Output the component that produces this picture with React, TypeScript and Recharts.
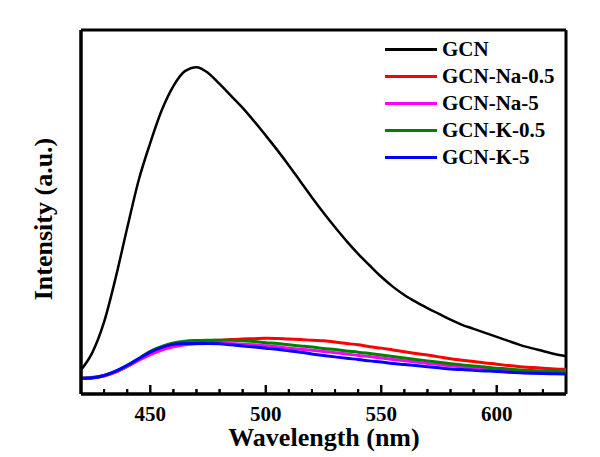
import React from 'react';
import { LineChart, Line, XAxis, YAxis, ReferenceLine } from 'recharts';

// wavelength grid (nm), 5 nm step
const wavelengths = [
  420, 425, 430, 435, 440, 445, 450, 455, 460, 465, 470, 475, 480, 485, 490, 495, 500,
  505, 510, 515, 520, 525, 530, 535, 540, 545, 550, 555, 560, 565, 570, 575, 580, 585,
  590, 595, 600, 605, 610, 615, 620, 625, 630,
];

const gcn = [
  6.6, 11.5, 19.8, 31.9, 45.6, 58.8, 69.0, 78.0, 84.6, 88.7, 89.8, 88.2, 85.2, 81.9, 78.6, 74.9, 71.0,
  67.0, 62.8, 58.4, 54.0, 49.8, 45.8, 42.0, 38.5, 35.3, 32.2, 29.5, 27.2, 25.3, 23.6, 22.0, 20.4, 19.0,
  17.9, 16.8, 15.7, 14.6, 13.5, 12.6, 11.8, 11.0, 10.4,
];
const gcnNa05 = [
  4.25, 4.4, 4.95, 6.0, 7.55, 9.3, 11.0, 12.5, 13.6, 14.0, 14.3, 14.6, 14.8, 15.0, 15.1, 15.2, 15.3,
  15.25, 15.1, 15.0, 14.75, 14.6, 14.3, 13.9, 13.5, 13.0, 12.6, 12.1, 11.6, 11.15, 10.7, 10.2, 9.7, 9.3,
  8.9, 8.5, 8.2, 7.8, 7.5, 7.3, 7.1, 6.9, 6.8,
];
const gcnNa5 = [
  4.4, 4.6, 5.1, 6.1, 7.55, 9.3, 10.85, 12.1, 12.95, 13.5, 13.8, 13.9, 13.9, 13.85, 13.7, 13.5, 13.25,
  13.0, 12.6, 12.3, 12.0, 11.7, 11.35, 11.0, 10.6, 10.3, 9.9, 9.5, 9.15, 8.8, 8.4, 8.1, 7.75, 7.45,
  7.15, 6.9, 6.6, 6.4, 6.2, 6.05, 5.95, 5.9, 5.85,
];
const gcnK05 = [
  4.3, 4.45, 5.1, 6.2, 7.8, 9.7, 11.7, 13.05, 14.0, 14.5, 14.7, 14.8, 14.8, 14.8, 14.6, 14.4, 14.1,
  13.85, 13.5, 13.2, 12.9, 12.5, 12.2, 11.8, 11.5, 11.1, 10.7, 10.3, 9.9, 9.5, 9.1, 8.7, 8.3, 8.0,
  7.7, 7.4, 7.1, 6.9, 6.6, 6.45, 6.3, 6.2, 6.1,
];
const gcnK5 = [
  4.3, 4.45, 5.1, 6.3, 7.9, 9.75, 11.5, 12.8, 13.65, 13.9, 13.9, 13.9, 13.8, 13.5, 13.2, 12.9, 12.6,
  12.3, 11.9, 11.5, 11.0, 10.6, 10.2, 9.8, 9.5, 9.1, 8.8, 8.4, 8.1, 7.8, 7.5, 7.2, 6.9, 6.7,
  6.5, 6.35, 6.2, 6.0, 5.85, 5.7, 5.6, 5.55, 5.5,
];

const xTicks = [430, 440, 450, 460, 470, 480, 490, 500, 510, 520, 530, 540, 550, 560, 570, 580, 590, 600, 610, 620];
const majorTicks = [450, 500, 550, 600];

const seriesList = [
  { key: 'gcn', name: 'GCN', color: '#000000', width: 2.5 },
  { key: 'na05', name: 'GCN-Na-0.5', color: '#ff0000', width: 3 },
  { key: 'na5', name: 'GCN-Na-5', color: '#ff00ff', width: 3 },
  { key: 'k05', name: 'GCN-K-0.5', color: '#008000', width: 3 },
  { key: 'k5', name: 'GCN-K-5', color: '#0000ff', width: 3 },
];

const data = wavelengths.map((wl, i) => ({
  wl,
  gcn: gcn[i],
  na05: gcnNa05[i],
  na5: gcnNa5[i],
  k05: gcnK05[i],
  k5: gcnK5[i],
}));

const FONT = '"Liberation Serif", "Times New Roman", serif';
const W = 592;
const H = 449;
const MARGIN = { top: 22, right: 34, bottom: 13, left: 33 };

function WlTick(props: any) {
  const x = Number(props.x);
  const y = Number(props.y);
  const major = majorTicks.includes(props.payload.value);
  return (
    <g>
      <line x1={x} x2={x} y1={y} y2={y - (major ? 9 : 5)} stroke="#000" strokeWidth={2} />
      {major && props.showLabel && (
        <text x={x} y={y + 27} textAnchor="middle" fontSize={21} fontWeight="bold" style={{ fontFamily: FONT }} fill="#000">
          {props.payload.value}
        </text>
      )}
    </g>
  );
}

const textStyle: React.CSSProperties = {
  position: 'absolute',
  fontFamily: FONT,
  fontWeight: 'bold',
  color: '#000',
  whiteSpace: 'nowrap',
  pointerEvents: 'none',
};

function xAxisFor(showLabel: boolean) {
  return (
    <XAxis
      dataKey="wl"
      type="number"
      domain={[420, 630]}
      ticks={xTicks}
      interval={0}
      axisLine={{ stroke: '#000', strokeWidth: 3 }}
      tickLine={false}
      tickSize={0}
      tickMargin={0}
      height={50}
      tick={<WlTick showLabel={showLabel} />}
    />
  );
}

export default function App() {
  return (
    <div style={{ position: 'relative', width: W, height: H }}>
      <LineChart width={W} height={H} data={data} margin={MARGIN}>
        {xAxisFor(true)}
        <YAxis type="number" domain={[0, 100]} width={40} tick={false} axisLine={{ stroke: '#000', strokeWidth: 3 }} />
        <ReferenceLine y={100} stroke="#000" strokeWidth={3} />
        <ReferenceLine x={630} stroke="#000" strokeWidth={3} />
        {seriesList.map((s) => (
          <Line
            key={s.key}
            type="monotone"
            dataKey={s.key}
            stroke={s.color}
            strokeWidth={s.width}
            dot={false}
            isAnimationActive={false}
          />
        ))}
      </LineChart>

      {/* axes-only layer on top: frame and inward ticks */}
      <div style={{ position: 'absolute', left: 0, top: 0, pointerEvents: 'none' }}>
        <LineChart width={W} height={H} data={data} margin={MARGIN}>
          {xAxisFor(false)}
          <YAxis type="number" domain={[0, 100]} width={40} tick={false} axisLine={{ stroke: '#000', strokeWidth: 3 }} />
          <ReferenceLine y={100} stroke="#000" strokeWidth={3} />
          <ReferenceLine x={630} stroke="#000" strokeWidth={3} />
        </LineChart>
      </div>

      <div style={{ ...textStyle, left: 377, top: 28, fontSize: 21 }}>
        {seriesList.map((s) => (
          <div key={s.key} style={{ display: 'flex', alignItems: 'center', height: 27 }}>
            <span style={{ display: 'inline-block', width: 52, height: 3, background: s.color, marginRight: 5 }} />
            <span>{s.name}</span>
          </div>
        ))}
      </div>

      <div style={{ ...textStyle, left: 316, top: 418, fontSize: 26, lineHeight: '24px', transform: 'translateX(-50%)' }}>
        Wavelength (nm)
      </div>
      <div
        style={{
          ...textStyle,
          left: 36,
          top: 211,
          fontSize: 26,
          lineHeight: '26px',
          transform: 'translate(-50%, -50%) rotate(-90deg)',
        }}
      >
        Intensity (a.u.)
      </div>
    </div>
  );
}
